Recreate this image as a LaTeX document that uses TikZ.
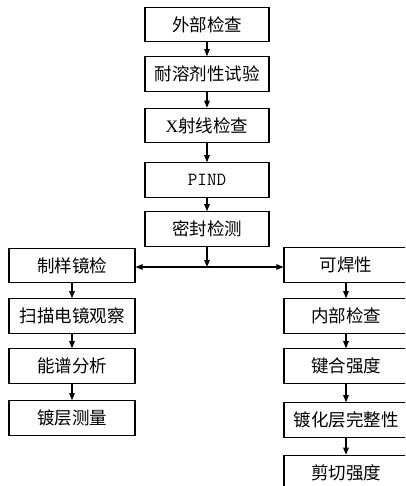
\documentclass[tikz,border=0pt]{standalone}
\usepackage{fontspec}
\setmainfont{Noto Sans CJK SC}
\newfontfamily\latinfont{Liberation Serif}
\usetikzlibrary{arrows.meta}
\begin{document}
\begin{tikzpicture}[x=1pt,y=-1pt,
  box/.style={draw,line width=1.1pt,rectangle,inner sep=0pt,minimum height=34.5pt,font=\fontsize{17.5}{20}\selectfont},
  cbox/.style={box,minimum width=124pt},
  lbox/.style={box,minimum width=126pt},
  rbox/.style={box,minimum width=124pt},
  arr/.style={line width=1.1pt,-{Triangle[length=7pt,width=5.5pt]}}]
\useasboundingbox (0,0) rectangle (405,486);
\begin{scope}
\clip (0,0) rectangle (405,486);
\node[cbox] (a1) at (207,24.5) {外部检查};
\node[cbox] (a2) at (207,74) {耐溶剂性试验};
\node[cbox] (a3) at (207,125.5) {{\latinfont X}射线检查};
\node[cbox] (a4) at (207,180) {\ttfamily\fontsize{18.5}{20}\selectfont PIND};
\node[cbox] (a5) at (207,229) {密封检测};
\node[lbox] (l1) at (72,265.5) {制样镜检};
\node[lbox] (l2) at (72,316) {扫描电镜观察};
\node[lbox] (l3) at (72,366) {能谱分析};
\node[lbox] (l4) at (72,418) {镀层测量};
\node[rbox] (r1) at (346,265) {可焊性};
\node[rbox] (r2) at (346,316) {内部检查};
\node[rbox] (r3) at (346,366) {键合强度};
\node[rbox] (r4) at (346,420) {镀化层完整性};
\node[rbox] (r5) at (346,472.5) {剪切强度};
\coordinate (j) at (a5.south |- 0,267);
\draw[arr] (a1) -- (a2);
\draw[arr] (a2) -- (a3);
\draw[arr] (a3) -- (a4);
\draw[arr] (a4) -- (a5);
\draw[arr] (a5) -- (j);
\draw[arr] (j) -- (j -| l1.east);
\draw[arr] (j) -- (j -| r1.west);
\draw[arr] (l1) -- (l2);
\draw[arr] (l2) -- (l3);
\draw[arr] (l3) -- (l4);
\draw[arr] (r1) -- (r2);
\draw[arr] (r2) -- (r3);
\draw[arr] (r3) -- (r4);
\draw[arr] (r4) -- (r5);
\end{scope}
\end{tikzpicture}
\end{document}
